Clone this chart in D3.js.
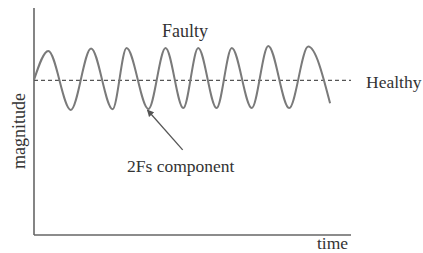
<!DOCTYPE html>
<html>
<head>
<meta charset="utf-8">
<script src="https://cdn.jsdelivr.net/npm/d3@7"></script>
<style>
  html, body { margin: 0; padding: 0; background: #fff; }
  svg { display: block; }
  text { font-family: "Liberation Serif", "DejaVu Serif", serif; fill: #333; }
</style>
</head>
<body>
<div id="chart"></div>
<script>
// extrema of the faulty signal (time units, magnitude units)
const faultyTime = [0, 0.45, 1.16, 1.80, 2.48, 2.92, 3.61, 4.15, 4.71, 5.18, 5.76, 6.24, 6.87, 7.39, 8.05, 8.65, 9.34];
const faultyMag  = [6.83, 8.11, 5.51, 8.22, 5.54, 8.24, 5.55, 8.24, 5.59, 8.24, 5.59, 8.24, 5.59, 8.33, 5.59, 8.30, 5.80];
const healthyTime = [0, 10];
const healthyMag = [6.81, 6.81];
const labels = { x: "time", y: "magnitude", faulty: "Faulty", healthy: "Healthy", note: "2Fs component" };

const width = 423, height = 253;
const x = d3.scaleLinear().domain([0, 10]).range([34, 351]);
const y = d3.scaleLinear().domain([0, 10]).range([235, 8]);

const svg = d3.select("#chart").append("svg")
    .attr("width", width)
    .attr("height", height);

svg.append("defs").append("marker")
    .attr("id", "arrow")
    .attr("viewBox", "0 0 10 10")
    .attr("refX", 9).attr("refY", 5)
    .attr("markerWidth", 7).attr("markerHeight", 7)
    .attr("markerUnits", "userSpaceOnUse")
    .attr("orient", "auto")
    .append("path")
    .attr("d", "M0,0 L10,5 L0,10 z")
    .attr("fill", "#555");

// axes (plain lines, no ticks)
svg.append("line")
    .attr("x1", x(0)).attr("x2", x(0))
    .attr("y1", y(10)).attr("y2", y(0))
    .attr("stroke", "#666").attr("stroke-width", 1.6);
svg.append("line")
    .attr("x1", x(0)).attr("x2", x(10))
    .attr("y1", y(0)).attr("y2", y(0))
    .attr("stroke", "#666").attr("stroke-width", 1.6);

// healthy level
const healthy = d3.zip(healthyTime, healthyMag);
svg.append("path")
    .attr("d", d3.line().x(d => x(d[0])).y(d => y(d[1]))(healthy))
    .attr("fill", "none")
    .attr("stroke", "#555")
    .attr("stroke-width", 1.2)
    .attr("stroke-dasharray", "4,3");

// faulty signal
const faulty = d3.zip(faultyTime, faultyMag);
svg.append("path")
    .attr("d", d3.line().curve(d3.curveMonotoneX).x(d => x(d[0])).y(d => y(d[1]))(faulty))
    .attr("fill", "none")
    .attr("stroke", "#7a7a7a")
    .attr("stroke-width", 2);

// annotation arrow pointing at a trough
const tip = faulty[6];
svg.append("line")
    .attr("x1", x(4.69)).attr("y1", y(3.75))
    .attr("x2", x(tip[0]) - 1).attr("y2", y(tip[1]) + 1)
    .attr("stroke", "#555")
    .attr("stroke-width", 1.3)
    .attr("marker-end", "url(#arrow)");

svg.append("text")
    .attr("x", 127).attr("y", 172)
    .attr("font-size", 17.5)
    .text(labels.note);

svg.append("text")
    .attr("x", 162).attr("y", 37)
    .attr("font-size", 18)
    .text(labels.faulty);

svg.append("text")
    .attr("x", 366).attr("y", 88)
    .attr("font-size", 17.5)
    .text(labels.healthy);

svg.append("text")
    .attr("x", 317).attr("y", 249)
    .attr("font-size", 17.5)
    .text(labels.x);

svg.append("text")
    .attr("transform", "translate(25,131) rotate(-90)")
    .attr("text-anchor", "middle")
    .attr("font-size", 18)
    .text(labels.y);
</script>
</body>
</html>
